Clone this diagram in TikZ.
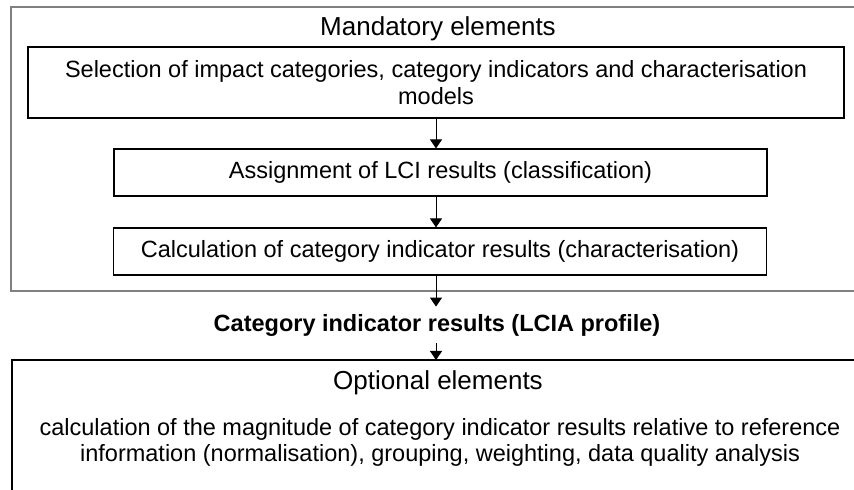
\documentclass[tikz,border=0pt]{standalone}
\usepackage{fontspec}
\setmainfont{Liberation Sans}
\usetikzlibrary{arrows.meta}

\tikzset{
  stepbox/.style={draw=black, line width=0.55pt, inner sep=0pt, align=center, font=\fontsize{11.75}{13.5}\selectfont},
  titletext/.style={inner sep=0pt, font=\fontsize{13}{15}\selectfont},
  flowarrow/.style={draw=black, line width=0.5pt, -{Triangle[length=4.5pt, width=6pt]}},
}

\begin{document}
\begin{tikzpicture}[x=0.5pt,y=0.5pt,yscale=-1,xscale=1]
\useasboundingbox (0,0) rectangle (854,490);
\clip (0,0) rectangle (854,490);

%Shape: Rectangle [mandatory frame]
\draw [color={rgb, 255:red, 128; green, 128; blue, 128 }, line width=0.6pt] (11,7) rectangle (900,291);
%Shape: Rectangle [optional frame]
\draw [color=black, line width=0.55pt] (12,360) rectangle (900,600);

% Text Node
\node [titletext] (mandatory) at (438,29) {Mandatory elements};
% Text Node
\node [stepbox, minimum width=408pt, minimum height=35.5pt] (selection) at (436,82.5)
  {Selection of impact categories, category indicators and characterisation\\models};
% Text Node
\node [stepbox, minimum width=326.5pt, minimum height=23.5pt] (assignment) at (440.5,172.5)
  {Assignment of LCI results (classification)};
% Text Node
\node [stepbox, minimum width=326.5pt, minimum height=23.5pt] (calculation) at (440,251.5)
  {Calculation of category indicator results (characterisation)};
% Text Node
\node [inner sep=0pt, minimum height=18pt, font=\fontsize{11.75}{13.5}\selectfont\bfseries] (profile) at (437,325)
  {Category indicator results (LCIA profile)};
% Text Node
\node [titletext] (optional) at (438,383) {Optional elements};
% Text Node
\node [inner sep=0pt, align=center, font=\fontsize{11.75}{13}\selectfont] (optdesc) at (440,442)
  {calculation of the magnitude of category indicator results relative to reference\\
   information (normalisation), grouping, weighting, data quality analysis};

%Straight Lines [arrows]
\draw [flowarrow] (selection.south) -- (selection.south |- assignment.north);
\draw [flowarrow] (selection.south |- assignment.south) -- (selection.south |- calculation.north);
\draw [flowarrow] (selection.south |- calculation.south) -- (selection.south |- profile.north);
\draw [flowarrow] (selection.south |- profile.south) -- (selection.south |- 0,360);

\end{tikzpicture}
\end{document}
